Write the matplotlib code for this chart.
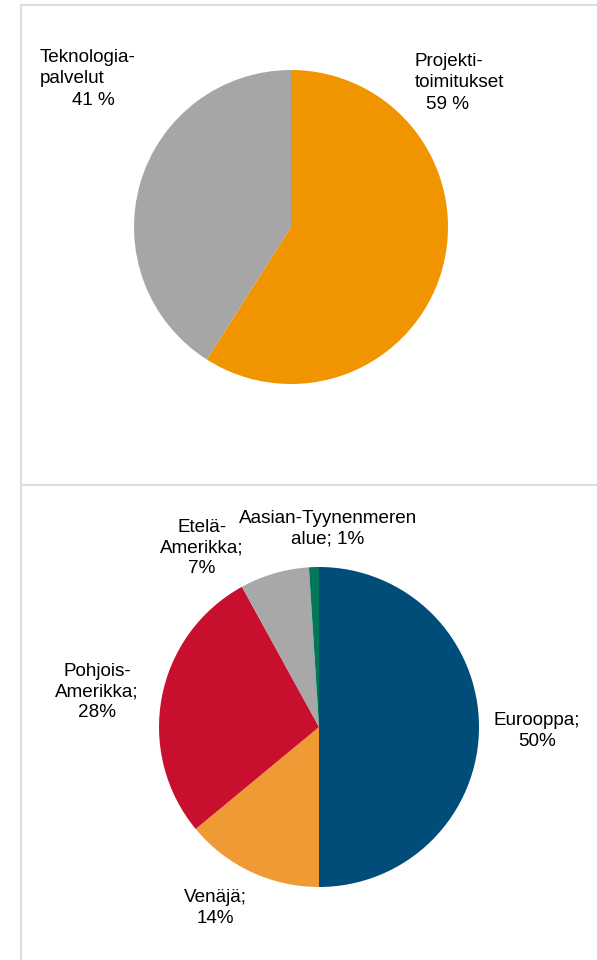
import matplotlib
matplotlib.use("Agg")
import matplotlib.pyplot as plt
from matplotlib.lines import Line2D

plt.rcParams['font.family'] = ['Liberation Sans', 'DejaVu Sans']

# Top chart data
top_categories = ["Projektitoimitukset", "Teknologiapalvelut"]
top_values = [59, 41]
top_colors = ["#F09500", "#A6A6A6"]

# Bottom chart data
bot_categories = ["Eurooppa", "Venäjä", "Pohjois-Amerikka", "Etelä-Amerikka", "Aasian-Tyynenmeren alue"]
bot_values = [50, 14, 28, 7, 1]
bot_colors = ["#004D7A", "#F09A35", "#C8102E", "#A8A8A8", "#00775A"]
bot_labels = ["Eurooppa;\n50%", "Venäjä;\n14%", "Pohjois-\nAmerikka;\n28%",
              "Etelä-\nAmerikka;\n7%", "Aasian-Tyynenmeren\nalue; 1%"]

W, H = 597, 960
fig = plt.figure(figsize=(W / 100, H / 100), dpi=100)
ax = fig.add_axes([0, 0, 1, 1])

FS = 13.6

# Top pie
ax.pie(top_values, colors=top_colors, startangle=90, counterclock=False,
       center=(291, H - 227), radius=157, wedgeprops=dict(linewidth=0),
       frame=True)

# Bottom pie
ax.pie(bot_values, colors=bot_colors, startangle=90, counterclock=False,
       center=(319, H - 727), radius=160, wedgeprops=dict(linewidth=0),
       frame=True)
ax.set_xlim(0, W)
ax.set_ylim(0, H)
ax.set_aspect('equal')
ax.axis('off')

# Top labels (line by line to mimic mixed alignment)
ax.text(40, H - 62, "Teknologia-", fontsize=FS, ha='left', va='baseline')
ax.text(40, H - 83, "palvelut", fontsize=FS, ha='left', va='baseline')
ax.text(72, H - 105, f"{top_values[1]} %", fontsize=FS, ha='left', va='baseline')

ax.text(415, H - 65.5, "Projekti-", fontsize=FS, ha='left', va='baseline')
ax.text(415, H - 87, "toimitukset", fontsize=FS, ha='left', va='baseline')
ax.text(426, H - 109, f"{top_values[0]} %", fontsize=FS, ha='left', va='baseline')

# Bottom labels
bot_label_pos = [(537, 731), (215, 908), (97, 692), (202, 548), (328, 529)]
for lab, (x, y) in zip(bot_labels, bot_label_pos):
    ax.text(x, H - y, lab, fontsize=FS, ha='center', va='center',
            multialignment='center', linespacing=1.3)

# Panel borders
bc = "#DDDDDD"
lw = 1.5
ax.add_line(Line2D([21, W], [H - 5, H - 5], color=bc, lw=lw))
ax.add_line(Line2D([21, 21], [0, H - 5], color=bc, lw=lw))
ax.add_line(Line2D([21, W], [H - 485, H - 485], color=bc, lw=lw))

fig.savefig("out.png", dpi=100)
